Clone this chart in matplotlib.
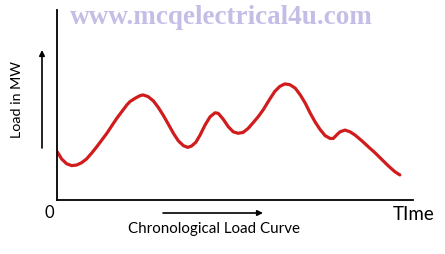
import matplotlib
matplotlib.use("Agg")
import matplotlib.pyplot as plt

# Chronological load curve (time in % of period, load in % of axis)
time_pts = [0.1, 1.3, 2.7, 4.1, 5.5, 6.9, 8.3, 9.7, 11.2, 12.6, 14.0, 15.4, 16.8, 18.2,
            19.6, 20.5, 21.9, 23.3, 24.2, 25.6, 27.1, 28.5, 29.9, 31.3, 32.7, 34.1, 35.5,
            36.7, 37.8, 39.0, 40.2, 41.6, 43.0, 44.4, 45.3, 46.7, 48.1, 49.5, 50.9, 52.3,
            53.7, 55.1, 56.5, 57.9, 59.8, 61.2, 62.6, 64.0, 65.4, 66.9, 68.3, 69.7, 71.1,
            72.5, 73.9, 75.3, 76.7, 77.6, 78.7, 79.5, 80.9, 82.3, 83.7, 85.6, 87.4, 89.3,
            91.2, 93.1, 94.9, 96.3]
load_pts = [25.3, 21.6, 19.1, 18.1, 18.4, 19.6, 21.6, 24.6, 28.1, 31.6, 35.1, 39.1, 43.0, 46.5,
            50.0, 51.8, 53.5, 54.9, 55.3, 54.4, 52.1, 48.6, 44.4, 39.8, 35.1, 31.1, 28.6,
            27.7, 28.4, 30.4, 34.2, 39.5, 43.8, 45.9, 45.6, 42.5, 38.6, 35.9, 35.1, 35.6,
            37.7, 40.7, 43.8, 47.4, 53.2, 57.2, 59.8, 61.1, 60.7, 58.9, 55.4, 51.1, 45.8,
            41.1, 37.1, 33.9, 32.4, 32.4, 34.5, 35.9, 36.8, 35.9, 34.2, 31.2, 28.1, 24.9,
            21.4, 17.9, 14.9, 13.2]

W, H = 445, 254
fig = plt.figure(figsize=(W / 100, H / 100), dpi=100)
ax = fig.add_axes([57 / W, 54 / H, 356 / W, 190 / H])
ax.plot(time_pts, load_pts, color="#d01c1c", lw=2.3, solid_capstyle="round",
        solid_joinstyle="round", antialiased=True)
ax.set_xlim(0, 100)
ax.set_ylim(0, 100)
for s in ("top", "right"):
    ax.spines[s].set_visible(False)
for s in ("left", "bottom"):
    ax.spines[s].set_linewidth(1.3)
    ax.spines[s].set_color("black")
ax.set_xticks([])
ax.set_yticks([])

font = "Lato"
fig.text(221 / W, 1 - 18 / H, "www.mcqelectrical4u.com", family="Liberation Serif",
         weight="bold", fontsize=19.5, color="#c4bee7", ha="center", va="center")
fig.text(49 / W, 1 - 213 / H, "0", family=font, fontsize=12, ha="center", va="center")
fig.text(414 / W, 1 - 214 / H, "TIme", family=font, fontsize=13.5, ha="center", va="center")
fig.text(214 / W, 1 - 229 / H, "Chronological Load Curve", family=font, fontsize=10.9,
         ha="center", va="center")
fig.text(17 / W, 1 - 100 / H, "Load in MW", family=font, fontsize=10.3, rotation=90,
         ha="center", va="center")

arrow = dict(arrowstyle="-|>", color="black", lw=1.2, mutation_scale=8, shrinkA=0, shrinkB=0)
ax.annotate("", xy=(263, H - 213), xytext=(163, H - 213), xycoords="figure pixels",
            textcoords="figure pixels", arrowprops=arrow)
ax.annotate("", xy=(42, H - 50), xytext=(42, H - 148), xycoords="figure pixels",
            textcoords="figure pixels", arrowprops=arrow)

fig.savefig("out.png", dpi=100, facecolor="white")
